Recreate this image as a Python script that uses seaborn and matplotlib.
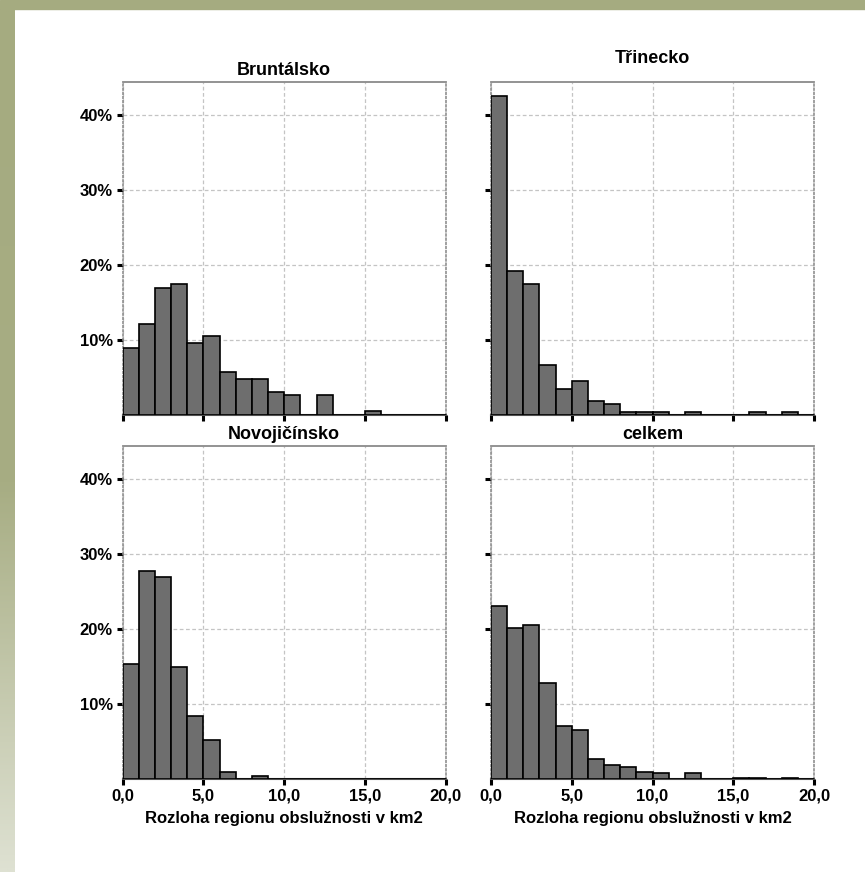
import numpy as np
import pandas as pd
import matplotlib
matplotlib.use("Agg")
import matplotlib.pyplot as plt
import seaborn as sns
from matplotlib.patches import Rectangle
from matplotlib.colors import LinearSegmentedColormap

# ---- data (percent of regions per 1 km2 bin, 0..20) ----
bin_edges = list(range(0, 21))
regions = ["Bruntálsko", "Třinecko", "Novojičínsko", "celkem"]
bruntalsko = [9.0, 12.1, 16.9, 17.5, 9.6, 10.6, 5.8, 4.8, 4.8, 3.1,
              2.7, 0.0, 2.7, 0.0, 0.0, 0.6, 0.0, 0.0, 0.0, 0.0]
trinecko = [42.5, 19.2, 17.5, 6.7, 3.5, 4.6, 1.9, 1.4, 0.44, 0.44,
            0.44, 0.0, 0.44, 0.0, 0.0, 0.0, 0.44, 0.0, 0.44, 0.0]
novojicinsko = [15.3, 27.7, 26.9, 14.9, 8.4, 5.2, 0.9, 0.0, 0.4, 0.0,
                0.0, 0.0, 0.0, 0.0, 0.0, 0.0, 0.0, 0.0, 0.0, 0.0]
celkem = [23.1, 20.1, 20.6, 12.8, 7.1, 6.5, 2.7, 1.9, 1.6, 1.0,
          0.84, 0.0, 0.84, 0.0, 0.0, 0.2, 0.2, 0.0, 0.2, 0.0]
x_ticks = [0, 5, 10, 15, 20]
x_tick_labels = ["0,0", "5,0", "10,0", "15,0", "20,0"]
y_ticks = [10, 20, 30, 40]
y_tick_labels = ["10%", "20%", "30%", "40%"]
x_label = "Rozloha regionu obslužnosti v km2"

series = {"Bruntálsko": bruntalsko, "Třinecko": trinecko,
          "Novojičínsko": novojicinsko, "celkem": celkem}

sns.set_style("white")
plt.rcParams["font.family"] = ["Liberation Sans", "DejaVu Sans"]
plt.rcParams["font.weight"] = "bold"
plt.rcParams["text.color"] = "black"
plt.rcParams["axes.labelcolor"] = "black"
plt.rcParams["xtick.color"] = "black"
plt.rcParams["ytick.color"] = "black"

W, H = 865, 872
fig = plt.figure(figsize=(W / 100, H / 100), dpi=100)
fig.patch.set_facecolor("white")

# decorative green frame
fig.patches.append(Rectangle((0, 1 - 9 / H), 1, 9 / H, transform=fig.transFigure,
                             color="#A5AB80", zorder=0))
bg = fig.add_axes([0, 0, 15 / W, 1 - 9 / H])
cmap = LinearSegmentedColormap.from_list(
    "g", [(0, "#A5AB80"), (0.55, "#A7AD83"), (1.0, "#DEE1D2")])
grad = np.linspace(0, 1, 300).reshape(-1, 1)
bg.imshow(grad, aspect="auto", cmap=cmap, origin="upper")
bg.axis("off")

left_x = [122.7, 491.0]
top_y = [82.0, 446.0]
aw, ah = 323.0, 333.0
title_pads = {"Bruntálsko": 5, "Třinecko": 14, "Novojičínsko": 5, "celkem": 5}

bin_centers = [b + 0.5 for b in bin_edges[:-1]]

for i, name in enumerate(regions):
    r, c = divmod(i, 2)
    x0 = left_x[c] / W
    y0 = 1 - (top_y[r] + ah) / H
    ax = fig.add_axes([x0, y0, aw / W, ah / H])
    df = pd.DataFrame({"x": bin_centers, "w": series[name]})
    sns.histplot(data=df, x="x", weights="w", bins=bin_edges, stat="count",
                 color="#6E6E6E", edgecolor="black", linewidth=1.2, alpha=1.0,
                 ax=ax, zorder=3)
    ax.set_xlim(0, 20)
    ax.set_ylim(0, 44.4)
    ax.set_xticks(x_ticks)
    ax.set_yticks(y_ticks)
    ax.grid(True, color="#C4C4C4", linestyle=(0, (3, 2)), linewidth=0.9, zorder=0)
    ax.set_axisbelow(True)
    ax.tick_params(axis="both", which="major", bottom=True, left=True,
                   top=False, right=False, direction="out", length=4, width=2.2,
                   color="black", labelcolor="black", labelsize=12, pad=3)
    if c == 0:
        ax.set_yticklabels(y_tick_labels, fontweight="bold")
    else:
        ax.set_yticklabels([])
    if r == 1:
        ax.set_xticklabels(x_tick_labels, fontweight="bold")
        ax.set_xlabel(x_label, fontsize=12, fontweight="bold", labelpad=5,
                      color="black")
    else:
        ax.set_xticklabels([])
        ax.set_xlabel("")
    ax.set_ylabel("")
    ax.set_title(name, fontsize=13, fontweight="bold", pad=title_pads[name],
                 color="black")
    for s in ["left", "right"]:
        ax.spines[s].set_visible(True)
        ax.spines[s].set_color("#909090")
        ax.spines[s].set_linestyle((0, (1, 1.5)))
        ax.spines[s].set_linewidth(1.2)
    ax.spines["top"].set_visible(True)
    ax.spines["top"].set_color("#8A8A8A")
    ax.spines["top"].set_linewidth(1.3)
    ax.spines["bottom"].set_visible(True)
    ax.spines["bottom"].set_color("#505050")
    ax.spines["bottom"].set_linewidth(1.5)

fig.savefig("out.png", dpi=100, facecolor="white")
